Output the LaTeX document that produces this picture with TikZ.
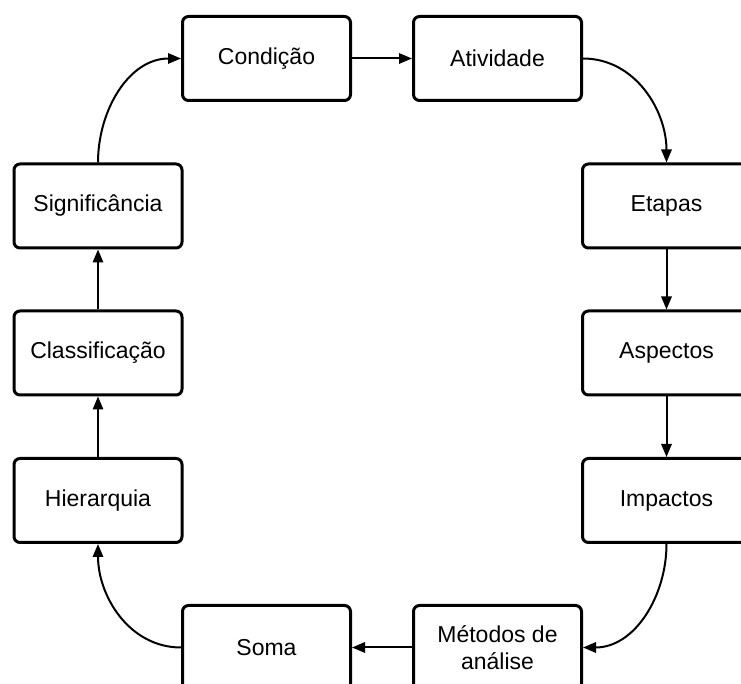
\documentclass[tikz,border=0pt]{standalone}
\usepackage{fontspec}
\setmainfont{Liberation Sans}
\usepackage{tikz}
\usetikzlibrary{arrows.meta, positioning}
\tikzset{
  block/.style = {draw, line width=1.5pt, rounded corners=3pt, align=center, minimum width=84pt, minimum height=42pt, font=\fontsize{11.5}{13.5}\selectfont},
  arrow/.style = {-{Triangle[length=6.5pt,width=5.2pt]}, line width=1pt}
}

\begin{document}
\begin{tikzpicture}[x=0.5pt,y=-0.5pt]
  \clip (0,0) rectangle (741,684);

  % top row
  \node[block] (cond)  at (266.5,58.5) {Condição};
  \node[block] (ativ)  at (497.5,58.5) {Atividade};

  % right column
  \node[block] (etap)  at (666.5,206)   {Etapas};
  \node[block] (asp)   at (666.5,353)   {Aspectos};
  \node[block] (imp)   at (666.5,500.5) {Impactos};

  % bottom row
  \node[block] (met)   at (497.5,647.5) {Métodos de\\análise};
  \node[block] (soma)  at (266.5,647.5) {Soma};

  % left column
  \node[block] (hier)  at (98,500.5) {Hierarquia};
  \node[block] (class) at (98,353)   {Classificação};
  \node[block] (sig)   at (98,206)   {Significância};

  \draw[arrow] (cond) -- (ativ);
  \draw[arrow] (ativ.east) to[out=0,in=90] (etap.north);
  \draw[arrow] (etap) -- (asp);
  \draw[arrow] (asp) -- (imp);
  \draw[arrow] (imp.south) to[out=-90,in=0] (met.east);
  \draw[arrow] (met) -- (soma);
  \draw[arrow] (soma.west) to[out=180,in=-90] (hier.south);
  \draw[arrow] (hier) -- (class);
  \draw[arrow] (class) -- (sig);
  \draw[arrow] (sig.north) to[out=90,in=180] (cond.west);
\end{tikzpicture}
\end{document}
